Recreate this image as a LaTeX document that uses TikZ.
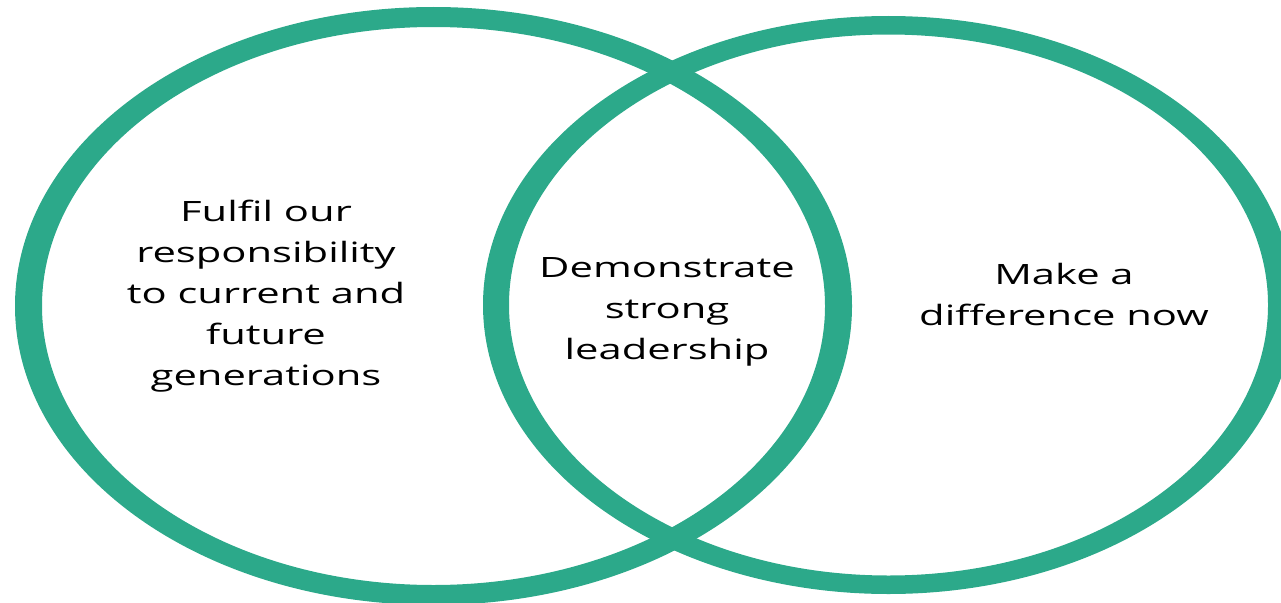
\documentclass[tikz,border=0pt]{standalone}
\usepackage{fontspec}
\newfontfamily\vennfont[FakeStretch=1.49]{Open Sans}
\definecolor{venngreen}{RGB}{44,169,138}
\tikzset{
  ring/.style={fill=venngreen, even odd rule, draw=none},
  venntext/.style={font=\vennfont\fontsize{28}{41}\selectfont, align=center, anchor=base, inner sep=0pt, text=black}
}
\begin{document}
\begin{tikzpicture}[x=1pt,y=-1pt]
\useasboundingbox (0,0) rectangle (1281,602);
\coordinate (lc) at (433.5,306);
\coordinate (rc) at (888.5,305);
\fill[ring] (lc) ellipse [x radius=418.5, y radius=299] (lc) ellipse [x radius=391.5, y radius=279];
\fill[ring] (rc) ellipse [x radius=405.5, y radius=289] (rc) ellipse [x radius=379.5, y radius=270.5];
\node[venntext] (left) at (266,385) {Fulfil our\\responsibility\\to current and\\future\\generations};
\node[venntext] (mid) at (667,359) {Demonstrate\\strong\\leadership};
\node[venntext] (right) at (1064,325) {Make a\\difference now};
\end{tikzpicture}
\end{document}
